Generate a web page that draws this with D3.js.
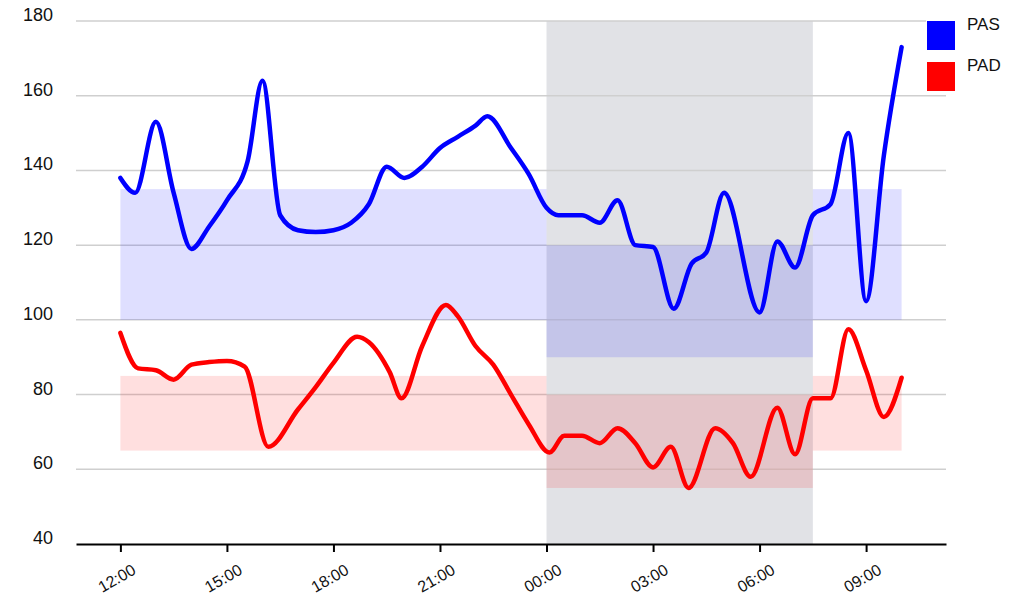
<!DOCTYPE html>
<html>
<head>
<meta charset="utf-8">
<script src="https://cdn.jsdelivr.net/npm/d3@7"></script>
<style>
  body { margin: 0; background: #fff; }
  svg { display: block; font-family: "Liberation Sans", Arial, sans-serif; }
  .grid line { stroke: #cfcfcf; stroke-width: 1.5; }
  .yLabel { font-size: 18px; fill: #111; text-anchor: end; }
  .xAxis text { font-size: 16px; fill: #111; }
</style>
</head>
<body>
<div id="chart"></div>
<script>
// readings (time of day, mmHg)
var pasTimes = ["12:00","12:25","13:00","13:30","14:00","14:30","15:00","15:35","16:00","16:30","17:00","17:30","18:00","18:30","19:00","19:30","20:00","20:30","21:00","21:30","22:00","22:20","23:00","23:30","00:00","00:20","01:00","01:30","02:00","02:30","03:00","03:35","04:05","04:30","05:00","06:00","06:30","07:00","07:30","08:00","08:30","09:00","09:30","10:00"];
var pasValues = [138,134,153,134,119,125,132,142.5,164,128,124,123.5,124,126,131,141,138,141,146,149,152,154.5,146,139,130,128,128,126,132,120,119.5,103,115,118,134,102,121,114,128,131,150,105,144,173];

var padTimes = ["12:00","12:30","13:00","13:30","14:00","14:30","15:00","15:30","16:10","17:00","17:30","18:00","18:40","19:00","19:35","19:55","20:30","21:10","21:30","22:00","22:30","23:00","23:30","00:05","00:30","01:00","01:30","02:00","02:30","03:00","03:30","04:00","04:45","05:15","05:45","06:30","07:00","07:30","08:00","08:30","09:00","09:30","10:00"];
var padValues = [96.5,87,86.5,84,88,88.7,89,87.5,66,76,82,88.5,95.5,94,86,79,93,104,101,93,88,80,72,64.5,69,69,67,71,67,60.5,66,55,71,67,58,76.5,64,79,79,97.5,86.5,74,84.5];

// reference ranges: day / night / morning
var periodStart = ["12:00","00:00","07:30"];
var periodEnd = ["00:00","07:30","10:00"];
var pasLow = [100,90,100];
var pasHigh = [135,120,135];
var padLow = [65,55,65];
var padHigh = [85,80,85];
var nightStart = "00:00";
var nightEnd = "07:30";

var yTicks = [40,60,80,100,120,140,160,180];
var seriesNames = ["PAS","PAD"];
var seriesColors = ["#0000ff","#ff0000"];

var width = 1033, height = 600;
var plotLeft = 76, plotRight = 946, plotTop = 21, plotBottom = 544;

function toDate(s, isEnd) {
    var p = s.split(":");
    var h = +p[0], m = +p[1];
    var day = (h < 11 || (isEnd && h === 0 && m === 0)) ? 2 : 1;
    return new Date(2020, 0, day, h, m);
}

var svg = d3.select("#chart").append("svg").attr("width", width).attr("height", height);

var x = d3.scaleTime()
    .domain([new Date(2020, 0, 1, 10, 45), new Date(2020, 0, 2, 11, 15)])
    .range([plotLeft, plotRight]);
var y = d3.scaleLinear().domain([40, 180]).range([plotBottom, plotTop]);

// night shading
svg.append("rect")
    .attr("x", x(toDate(nightStart, true)))
    .attr("y", y(180))
    .attr("width", x(toDate(nightEnd)) - x(toDate(nightStart, true)))
    .attr("height", y(40) - y(180))
    .attr("fill", "#e1e2e6");

// grid
svg.append("g").attr("class", "grid")
    .selectAll("line").data(yTicks.filter(function (d) { return d > 40; })).enter()
    .append("line")
    .attr("x1", plotLeft)
    .attr("x2", plotRight)
    .attr("y1", function (d) { return y(d); })
    .attr("y2", function (d) { return y(d); });

// normal range bands
function bands(low, high, color) {
    svg.append("g").selectAll("rect").data(periodStart).enter()
        .append("rect")
        .attr("x", function (d) { return x(toDate(d)); })
        .attr("width", function (d, i) { return x(toDate(periodEnd[i], true)) - x(toDate(d)); })
        .attr("y", function (d, i) { return y(high[i]); })
        .attr("height", function (d, i) { return y(low[i]) - y(high[i]); })
        .attr("fill", color)
        .attr("fill-opacity", 0.125);
}
bands(pasLow, pasHigh, "#0000ff");
bands(padLow, padHigh, "#ff0000");

// y labels
svg.append("g").selectAll("text").data(yTicks).enter()
    .append("text")
    .attr("class", "yLabel")
    .attr("x", 53)
    .attr("y", function (d) { return y(d); })
    .text(function (d) { return d; });

// x axis
var xAxis = d3.axisBottom(x)
    .ticks(d3.timeHour.every(3))
    .tickFormat(d3.timeFormat("%H:%M"))
    .tickSize(8)
    .tickSizeOuter(0);

var gx = svg.append("g").attr("class", "xAxis")
    .attr("transform", "translate(0," + plotBottom + ")")
    .call(xAxis);
gx.select(".domain").attr("stroke", "#000").attr("stroke-width", 2);
gx.selectAll(".tick line").attr("stroke", "#000").attr("stroke-width", 2);
gx.selectAll(".tick text")
    .attr("text-anchor", "end")
    .attr("y", 0)
    .attr("dy", 0)
    .attr("transform", "translate(16,29) rotate(-30)");

// lines
var line = d3.line()
    .curve(d3.curveMonotoneX)
    .x(function (d) { return x(d[0]); })
    .y(function (d) { return y(d[1]); });

var pasData = pasTimes.map(function (t, i) { return [toDate(t), pasValues[i]]; });
var padData = padTimes.map(function (t, i) { return [toDate(t), padValues[i]]; });

[pasData, padData].forEach(function (data, i) {
    svg.append("path")
        .datum(data)
        .attr("d", line)
        .attr("fill", "none")
        .attr("stroke", seriesColors[i])
        .attr("stroke-width", 4.5)
        .attr("stroke-linejoin", "round")
        .attr("stroke-linecap", "round");
});

// legend
svg.append("rect").attr("x", 926).attr("y", 8).attr("width", 90).attr("height", 86).attr("fill", "#fff");
var legend = svg.append("g").selectAll("g").data(seriesNames).enter()
    .append("g")
    .attr("transform", function (d, i) { return "translate(927," + (21 + i * 41) + ")"; });
legend.append("rect")
    .attr("width", 28)
    .attr("height", 29)
    .attr("fill", function (d, i) { return seriesColors[i]; });
legend.append("text")
    .attr("x", 40)
    .attr("y", 9)
    .attr("font-size", 17)
    .attr("fill", "#111")
    .text(function (d) { return d; });
</script>
</body>
</html>
